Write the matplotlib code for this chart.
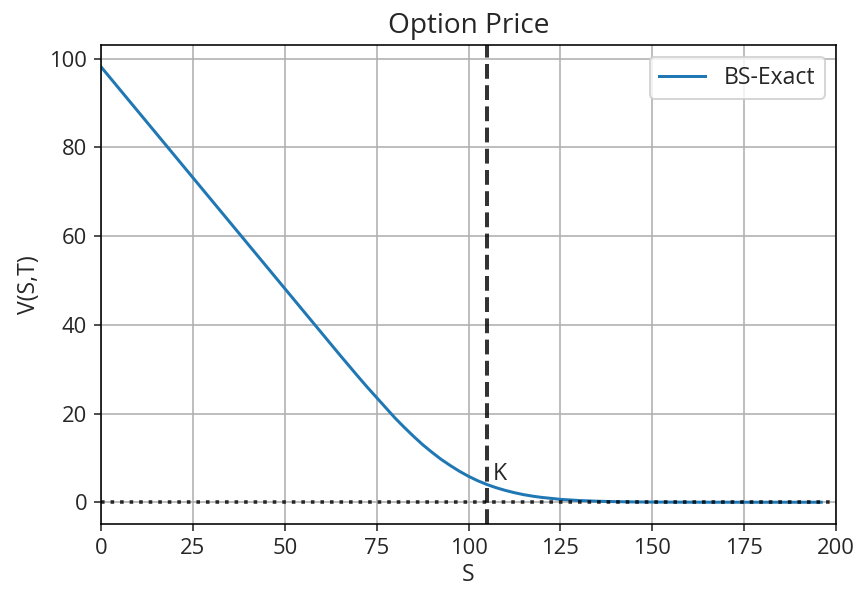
import matplotlib.pyplot as plt

plt.rcParams['font.family'] = ['Open Sans', 'DejaVu Sans']
plt.rcParams['text.color'] = '#262626'
plt.rcParams['xtick.color'] = '#262626'
plt.rcParams['ytick.color'] = '#262626'
plt.rcParams['axes.labelcolor'] = '#262626'

# valores
S_VALUES = [0, 5, 10, 15, 20, 25, 30, 35, 40, 45, 50, 55, 60, 65, 70, 72.5, 75,
            77.5, 80, 82.5, 85, 87.5, 90, 92.5, 95, 97.5, 100, 102.5, 105, 107.5,
            110, 112.5, 115, 117.5, 120, 125, 130, 135, 140, 145, 150, 155,
            160, 165, 170, 180, 190, 196]
V_VALUES = [98.2, 93.2, 88.2, 83.2, 78.2, 73.2, 68.2, 63.2, 58.2, 53.2, 48.2, 43.2,
            38.2, 33.2, 28.3, 25.9, 23.6, 21.3, 19.0, 16.9, 14.9, 13.0, 11.3, 9.7,
            8.3, 7.0, 5.85, 4.85, 4.0, 3.28, 2.67, 2.15, 1.71, 1.36, 1.08, 0.65,
            0.39, 0.23, 0.13, 0.07, 0.04, 0.02, 0.01, 0.0, 0.0, 0.0, 0.0, 0.0]
STRIKE = 105
STRIKE_PRICE = 3.7

fig = plt.figure(figsize=(857 / 144, 589 / 144), dpi=144)
ax = fig.add_subplot(111)
fig.subplots_adjust(left=101 / 857, right=836 / 857, top=1 - 45 / 589, bottom=1 - 524 / 589)

ax.plot(S_VALUES, V_VALUES, color='tab:blue', linewidth=1.5, label='BS-Exact')
ax.axhline(0, color='k', linestyle=':', linewidth=1.8, alpha=0.8)
ax.axvline(STRIKE, color='k', linestyle='--', linewidth=2, alpha=0.8)
ax.text(STRIKE + 1.5, STRIKE_PRICE, 'K', fontsize=11.5, va='bottom')

ax.set_xlim(0, 200)
ax.set_title('Option Price', fontsize=14)
ax.set_xlabel('S', fontsize=11.5, labelpad=2)
ax.set_ylabel('V(S,T)', fontsize=11.5)
ax.tick_params(labelsize=11)
ax.grid(True)
ax.legend(loc='upper right', fontsize=11.5)

plt.savefig('out.png', dpi=144)
